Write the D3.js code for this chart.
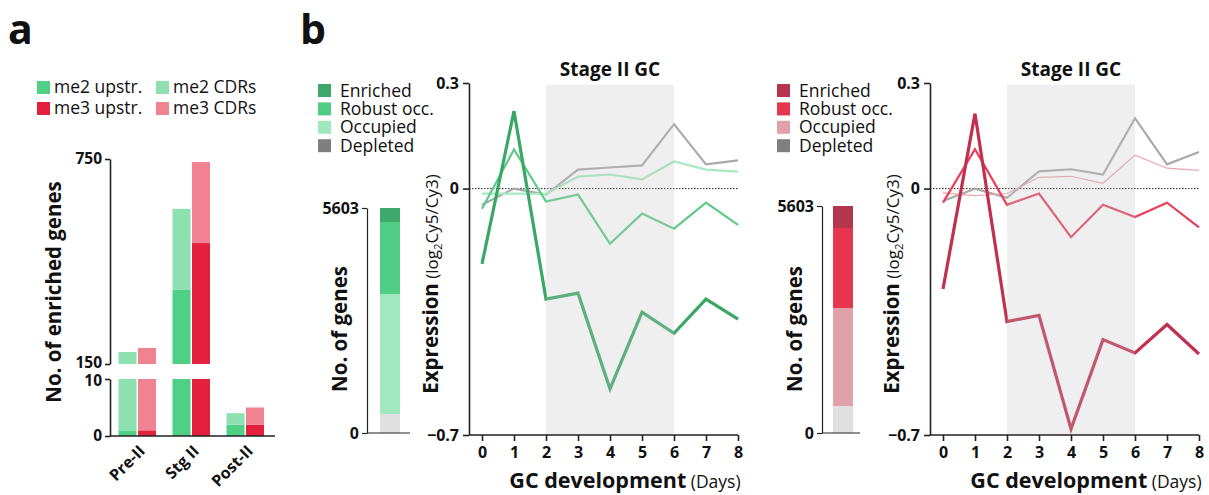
<!DOCTYPE html>
<html>
<head>
<meta charset="utf-8">
<script src="https://cdn.jsdelivr.net/npm/d3@7"></script>
<style>
  body { margin: 0; background: #fff; }
  text { font-family: "Open Sans", "Noto Sans", sans-serif; fill: #111; }
</style>
</head>
<body>
<script>
// ---------- Panel a: enriched genes per developmental stage ----------
const stages = ["Pre-II", "Stg II", "Post-II"];
const me2Upstr = [1, 367, 2];
const me2CDRs = [184, 237, 2];
const me3Upstr = [1, 504, 2];
const me3CDRs = [196, 237, 3];
const lowTicks = [0, 10];
const highTicks = [150, 750];
const legendA = ["me2 upstr.", "me2 CDRs", "me3 upstr.", "me3 CDRs"];

// ---------- Panel b: occupancy classes and expression time course ----------
const occupancy = ["Enriched", "Robust occ.", "Occupied", "Depleted"];
const totalGenes = 5603;
const me2GeneCounts = [349, 1793, 2988, 473];
const me3GeneCounts = [543, 1975, 2419, 666];
const days = [0, 1, 2, 3, 4, 5, 6, 7, 8];
const stageIIDays = [2, 6];
const exprTicks = [0.3, 0, -0.7];

const me2Enriched = [-0.214, 0.22, -0.314, -0.297, -0.569, -0.351, -0.411, -0.314, -0.371];
const me2Robust   = [-0.057, 0.111, -0.037, -0.017, -0.157, -0.071, -0.114, -0.04, -0.103];
const me2Occupied = [-0.014, -0.014, -0.015, 0.034, 0.04, 0.026, 0.077, 0.054, 0.048];
const me2Depleted = [-0.046, 0, -0.017, 0.054, 0.06, 0.066, 0.183, 0.069, 0.08];

const me3Enriched = [-0.285, 0.213, -0.378, -0.36, -0.683, -0.429, -0.467, -0.386, -0.47];
const me3Robust   = [-0.04, 0.112, -0.046, -0.014, -0.138, -0.046, -0.081, -0.04, -0.11];
const me3Occupied = [-0.012, -0.02, -0.014, 0.032, 0.035, 0.015, 0.095, 0.058, 0.052];
const me3Depleted = [-0.035, 0, -0.026, 0.049, 0.055, 0.04, 0.2, 0.069, 0.104];

const svg = d3.select("body").append("svg")
  .attr("width", 1209).attr("height", 495);

const AXIS = "#222";

function styleAxis(g, fontSize) {
  g.selectAll("path.domain").attr("stroke", AXIS).attr("stroke-width", 1.6);
  g.selectAll(".tick line").attr("stroke", AXIS).attr("stroke-width", 1.6);
  g.selectAll(".tick text")
    .attr("font-family", '"Open Sans", "Noto Sans", sans-serif')
    .attr("font-weight", 700).attr("font-size", fontSize).attr("fill", "#111");
}

// panel letters
svg.append("text").attr("x", 8).attr("y", 44)
  .attr("font-size", 41).attr("font-weight", 700).text("a");
svg.append("text").attr("x", 300).attr("y", 44)
  .attr("font-size", 41).attr("font-weight", 700).text("b");

// ================= Panel a =================
(function panelA() {
  const colMe2Up = "#50d086", colMe2CDR = "#8ee0b0";
  const colMe3Up = "#e3213f", colMe3CDR = "#f08291";
  const legendColors = [colMe2Up, colMe2CDR, colMe3Up, colMe3CDR];

  // legend (2 x 2)
  const lg = svg.append("g");
  legendA.forEach((name, i) => {
    const col = i % 2, row = Math.floor(i / 2);
    const gx = 37 + col * 119, gy = 81 + row * 21;
    lg.append("rect").attr("x", gx).attr("y", gy).attr("width", 13).attr("height", 13)
      .attr("fill", legendColors[i]);
    lg.append("text").attr("x", gx + 17).attr("y", gy + 12)
      .attr("font-size", 17.5).text(name);
  });

  const x = d3.scaleBand().domain(stages).range([110, 272]);
  const yLow = d3.scaleLinear().domain([0, 10]).range([436, 379]);
  const yHigh = d3.scaleLinear().domain([150, 750]).range([364, 159]);

  // broken-axis bars: draw each stacked piece in both axis segments
  function piece(g, x0, w, v0, v1, color) {
    const lo0 = Math.max(0, Math.min(10, v0)), lo1 = Math.max(0, Math.min(10, v1));
    if (lo1 > lo0) {
      g.append("rect").attr("x", x0).attr("width", w)
        .attr("y", yLow(lo1)).attr("height", yLow(lo0) - yLow(lo1)).attr("fill", color);
    }
    const hi0 = Math.max(150, Math.min(750, v0)), hi1 = Math.max(150, Math.min(750, v1));
    if (hi1 > hi0) {
      g.append("rect").attr("x", x0).attr("width", w)
        .attr("y", yHigh(hi1)).attr("height", yHigh(hi0) - yHigh(hi1)).attr("fill", color);
    }
  }

  const bars = svg.append("g");
  const bw = 18;
  stages.forEach((s, i) => {
    const c = x(s) + x.bandwidth() / 2;
    piece(bars, c - bw - 0.5, bw, 0, me2Upstr[i], colMe2Up);
    piece(bars, c - bw - 0.5, bw, me2Upstr[i], me2Upstr[i] + me2CDRs[i], colMe2CDR);
    piece(bars, c + 1, bw, 0, me3Upstr[i], colMe3Up);
    piece(bars, c + 1, bw, me3Upstr[i], me3Upstr[i] + me3CDRs[i], colMe3CDR);
  });

  const gLow = svg.append("g").attr("transform", "translate(110,0)")
    .call(d3.axisLeft(yLow).tickValues(lowTicks).tickSize(5).tickSizeOuter(0).tickPadding(3));
  styleAxis(gLow, 15.5);
  const gHigh = svg.append("g").attr("transform", "translate(110,0)")
    .call(d3.axisLeft(yHigh).tickValues(highTicks).tickSize(5).tickSizeOuter(0).tickPadding(3));
  styleAxis(gHigh, 15.5);
  gHigh.selectAll(".tick text").filter(d => d === 150).attr("dy", "0.2em");
  gLow.selectAll(".tick text").filter(d => d === 10).attr("dy", "0.45em");

  const gx = svg.append("g").attr("transform", "translate(0,436)")
    .call(d3.axisBottom(x).tickSize(0).tickFormat(""));
  styleAxis(gx, 15);
  gx.select("path.domain").attr("d", "M110,0H275");

  stages.forEach(s => {
    const c = x(s) + x.bandwidth() / 2;
    svg.append("text")
      .attr("transform", `translate(${c + 9},452) rotate(-45)`)
      .attr("text-anchor", "end").attr("font-size", 16).attr("font-weight", 700)
      .text(s);
  });

  svg.append("text")
    .attr("transform", "translate(61,292) rotate(-90)")
    .attr("text-anchor", "middle").attr("font-size", 20.5).attr("font-weight", 700)
    .text("No. of enriched genes");
})();

// ================= Panel b =================
function panelB(cfg) {
  const counts = cfg.counts;
  const squareColors = [cfg.colors[0], cfg.colors[1], cfg.colors[2], "#7f7f7f"];
  const barColors = [cfg.colors[0], cfg.colors[1], cfg.colors[2], "#e0e0e0"];

  // legend
  occupancy.forEach((name, i) => {
    const gy = 84 + i * 18.4;
    svg.append("rect").attr("x", cfg.legendX).attr("y", gy).attr("width", 13).attr("height", 13)
      .attr("fill", squareColors[i]);
    svg.append("text").attr("x", cfg.legendX + 22).attr("y", gy + 12.5)
      .attr("font-size", 17.5).text(name);
  });

  // stacked gene-count bar
  const yC = d3.scaleLinear().domain([0, totalGenes]).range([433, cfg.countTop]);
  let acc = 0;
  for (let i = occupancy.length - 1; i >= 0; i--) {
    const v0 = acc, v1 = acc + counts[i];
    svg.append("rect").attr("x", cfg.barX).attr("width", 20)
      .attr("y", yC(v1)).attr("height", yC(v0) - yC(v1)).attr("fill", barColors[i]);
    acc = v1;
  }
  const gC = svg.append("g").attr("transform", `translate(${cfg.countAxisX},0)`)
    .call(d3.axisLeft(yC).tickValues([0, totalGenes]).tickSize(5).tickSizeOuter(0).tickPadding(3)
      .tickFormat(d3.format("d")));
  styleAxis(gC, 16);
  gC.selectAll("path.domain").attr("stroke-width", 1.2);
  gC.selectAll(".tick line").attr("stroke-width", 1.2);
  svg.append("line").attr("x1", cfg.countAxisX).attr("x2", cfg.countAxisX + cfg.baseLen)
    .attr("y1", 433).attr("y2", 433).attr("stroke", AXIS).attr("stroke-width", 1.2);
  svg.append("text")
    .attr("transform", `translate(${cfg.countAxisX - 20},329) rotate(-90)`)
    .attr("text-anchor", "middle").attr("font-size", 20.5).attr("font-weight", 700)
    .text("No. of genes");

  // expression time course
  const x = d3.scaleLinear().domain([0, 8]).range([cfg.x0, cfg.x0 + 256]);
  const y = d3.scaleLinear().domain([-0.7, 0.3]).range([435, 83]);
  const axX = cfg.x0 - 13;

  // dotted zero line
  svg.append("line").attr("x1", axX).attr("x2", x(8)).attr("y1", y(0)).attr("y2", y(0))
    .attr("stroke", "#222").attr("stroke-width", 1).attr("stroke-dasharray", "1.5,1.5");

  const line = d3.line().x((d, i) => x(days[i])).y(d => y(d));
  const series = [
    { values: cfg.series[3], color: "#a9a9a9", width: 2.2 },
    { values: cfg.series[2], color: cfg.lineColors[2], width: cfg.occWidth },
    { values: cfg.series[1], color: cfg.lineColors[1], width: 2.2 },
    { values: cfg.series[0], color: cfg.lineColors[0], width: 3.2 }
  ];
  series.forEach(s => {
    svg.append("path").datum(s.values).attr("d", line)
      .attr("fill", "none").attr("stroke", s.color).attr("stroke-width", s.width)
      .attr("stroke-linejoin", "miter");
  });

  // Stage II window
  svg.append("rect")
    .attr("x", x(stageIIDays[0])).attr("width", x(stageIIDays[1]) - x(stageIIDays[0]))
    .attr("y", y(0.295)).attr("height", y(-0.7) - y(0.295))
    .attr("fill", "#c4c4c4").attr("opacity", 0.27);
  svg.append("text").attr("x", (x(stageIIDays[0]) + x(stageIIDays[1])) / 2).attr("y", 76)
    .attr("text-anchor", "middle").attr("font-size", 19).attr("font-weight", 700)
    .text("Stage II GC");

  const gy = svg.append("g").attr("transform", `translate(${axX},0)`)
    .call(d3.axisLeft(y).tickValues(exprTicks).tickSize(6).tickSizeOuter(0).tickPadding(4)
      .tickFormat(d => d === 0 ? "0" : d3.format(".1f")(d)));
  styleAxis(gy, 16);

  const gx = svg.append("g").attr("transform", "translate(0,435)")
    .call(d3.axisBottom(x).tickValues(days).tickSize(6).tickSizeOuter(0).tickPadding(6)
      .tickFormat(d3.format("d")));
  styleAxis(gx, 16);
  gx.select("path.domain").attr("d", `M${axX},0H${x(8)}`);

  const xl = svg.append("text").attr("x", x(4) + 15).attr("y", 488)
    .attr("text-anchor", "middle");
  xl.append("tspan").attr("font-size", 21.5).attr("font-weight", 700).text("GC development");
  xl.append("tspan").attr("font-size", 17.5).text(" (Days)");

  const yl = svg.append("text")
    .attr("transform", `translate(${axX - 31},284) rotate(-90)`)
    .attr("text-anchor", "middle");
  yl.append("tspan").attr("font-size", 20.5).attr("font-weight", 700).text("Expression");
  yl.append("tspan").attr("font-size", 17).text(" (log");
  yl.append("tspan").attr("font-size", 11.5).attr("dy", 4).text("2");
  yl.append("tspan").attr("font-size", 17).attr("dy", -4).text("Cy5/Cy3)");
}

panelB({
  legendX: 318, barX: 380, countAxisX: 367, baseLen: 43, countTop: 208,
  x0: 482,
  counts: me2GeneCounts,
  colors: ["#3da86a", "#50cd85", "#a2e8be"],
  lineColors: ["#3aa865", "#5ccb88", "#a8e9c2"],
  occWidth: 2.2,
  series: [me2Enriched, me2Robust, me2Occupied, me2Depleted]
});

panelB({
  legendX: 777, barX: 833, countAxisX: 822, baseLen: 38, countTop: 206,
  x0: 943,
  counts: me3GeneCounts,
  colors: ["#b5374f", "#e6364f", "#e0a1ab"],
  lineColors: ["#c2304f", "#e8405a", "#eba6b1"],
  occWidth: 1.2,
  series: [me3Enriched, me3Robust, me3Occupied, me3Depleted]
});
</script>
</body>
</html>
